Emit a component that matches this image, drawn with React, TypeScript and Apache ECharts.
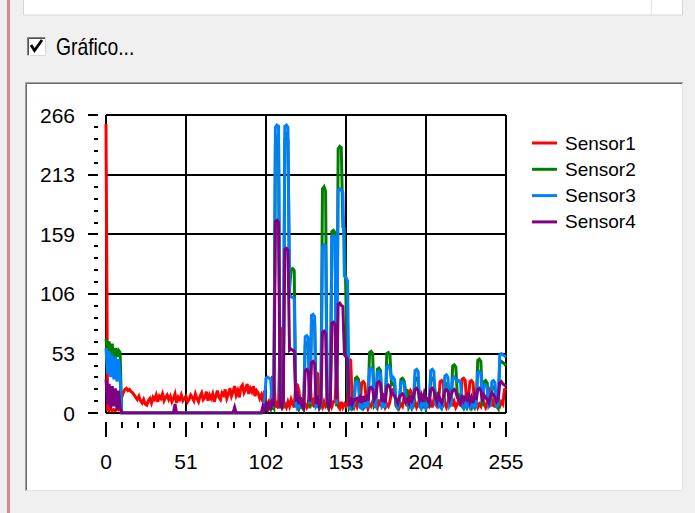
import React, { useEffect, useRef } from "react";
import * as echarts from "echarts";

const seriesNames = ["Sensor1", "Sensor2", "Sensor3", "Sensor4"];
const seriesColors = ["#ff0000", "#008000", "#0080ff", "#800080"];

const xTickLabels = ["0", "51", "102", "153", "204", "255"];
const yTickLabels = ["0", "53", "106", "159", "213", "266"];

const sensor1 = [
  258, 3, 2, 4, 2, 3, 2, 4, 3, 5, 14, 18, 21, 22, 20, 21,
  19, 18, 16, 14, 12, 15, 11, 9, 12, 8, 7, 11, 13, 9, 14, 12,
  16, 10, 15, 13, 17, 11, 14, 16, 12, 15, 10, 13, 17, 9, 14, 12,
  16, 11, 13, 15, 10, 12, 16, 14, 11, 17, 13, 10, 15, 18, 12, 14,
  19, 11, 16, 13, 17, 10, 15, 20, 14, 12, 18, 16, 21, 13, 17, 22,
  15, 19, 24, 16, 20, 14, 23, 25, 18, 21, 26, 17, 22, 19, 24, 15,
  20, 18, 13, 16, 10, 20, 6, 4, 10, 8, 31, 30, 5, 8, 4, 74,
  75, 6, 8, 5, 10, 6, 12, 8, 5, 26, 25, 20, 4, 10, 6, 8,
  5, 8, 36, 6, 10, 5, 36, 35, 6, 8, 5, 10, 6, 8, 4, 12,
  6, 10, 10, 38, 6, 4, 10, 5, 8, 6, 10, 48, 47, 8, 5, 10,
  6, 12, 8, 27, 28, 26, 10, 4, 8, 6, 10, 15, 8, 5, 12, 6,
  18, 10, 5, 8, 6, 10, 20, 21, 18, 6, 12, 5, 8, 6, 14, 10,
  6, 18, 20, 17, 6, 10, 5, 8, 12, 6, 10, 14, 5, 8, 6, 10,
  5, 12, 8, 6, 10, 28, 29, 27, 8, 5, 10, 20, 18, 6, 10, 5,
  8, 12, 6, 30, 31, 29, 8, 12, 28, 29, 27, 6, 10, 5, 8, 6,
  12, 8, 5, 10, 22, 20, 6, 10, 5, 14, 8, 6, 10, 8, 21, 22,
];

const sensor2 = [
  66, 55, 64, 52, 62, 36, 58, 50, 56, 54, 0, 0, 0, 0, 0, 0,
  0, 0, 0, 0, 0, 0, 0, 0, 0, 0, 0, 0, 0, 0, 0, 0,
  0, 0, 0, 0, 0, 0, 0, 0, 0, 0, 0, 0, 0, 0, 0, 0,
  0, 0, 0, 0, 0, 0, 0, 0, 0, 0, 0, 0, 0, 0, 0, 0,
  0, 0, 0, 0, 0, 0, 0, 0, 0, 0, 0, 0, 0, 0, 0, 0,
  0, 0, 0, 0, 0, 0, 0, 0, 0, 0, 0, 0, 0, 0, 0, 0,
  0, 0, 0, 0, 2, 6, 4, 8, 5, 3, 6, 4, 240, 245, 240, 5,
  8, 4, 245, 248, 244, 110, 128, 129, 127, 6, 10, 4, 8, 5, 3, 60,
  62, 60, 4, 80, 82, 80, 5, 10, 4, 6, 200, 202, 198, 6, 4, 10,
  162, 163, 161, 6, 236, 238, 237, 166, 165, 100, 20, 5, 8, 4, 6, 31,
  32, 30, 5, 8, 4, 6, 10, 5, 54, 55, 53, 6, 8, 39, 40, 38,
  5, 10, 4, 53, 54, 52, 25, 26, 24, 6, 4, 8, 30, 31, 29, 20,
  20, 5, 8, 4, 6, 30, 31, 29, 5, 8, 6, 10, 4, 8, 5, 30,
  31, 29, 16, 17, 15, 6, 4, 8, 25, 26, 24, 6, 10, 42, 43, 41,
  15, 16, 14, 6, 4, 8, 5, 10, 6, 4, 8, 5, 10, 47, 48, 46,
  6, 28, 29, 27, 5, 8, 22, 23, 21, 6, 4, 45, 46, 45, 44, 42,
];

const sensor3 = [
  58, 35, 55, 32, 52, 30, 50, 28, 48, 30, 0, 0, 0, 0, 0, 0,
  0, 0, 0, 0, 0, 0, 0, 0, 0, 0, 0, 0, 0, 0, 0, 0,
  0, 0, 0, 0, 0, 0, 0, 0, 0, 0, 0, 0, 0, 0, 0, 0,
  0, 0, 0, 0, 0, 0, 0, 0, 0, 0, 0, 0, 0, 0, 0, 0,
  0, 0, 0, 0, 0, 0, 0, 0, 0, 0, 0, 0, 0, 0, 0, 0,
  0, 0, 0, 0, 0, 0, 0, 0, 0, 0, 0, 0, 0, 0, 0, 0,
  0, 0, 0, 0, 3, 8, 31, 32, 31, 30, 5, 8, 255, 257, 256, 10,
  6, 8, 256, 257, 255, 104, 104, 103, 102, 8, 4, 6, 10, 5, 4, 68,
  69, 67, 8, 87, 88, 86, 6, 8, 5, 10, 148, 150, 149, 10, 6, 8,
  157, 158, 156, 8, 199, 200, 199, 197, 122, 121, 118, 6, 4, 8, 5, 27,
  28, 26, 5, 4, 8, 6, 10, 5, 39, 40, 38, 8, 6, 36, 37, 35,
  6, 8, 5, 41, 42, 40, 31, 32, 30, 8, 5, 10, 27, 28, 26, 10,
  10, 6, 8, 5, 10, 38, 39, 37, 6, 4, 10, 8, 5, 10, 6, 38,
  39, 37, 8, 8, 6, 10, 5, 8, 33, 34, 32, 6, 8, 31, 32, 30,
  28, 29, 27, 8, 5, 10, 6, 8, 5, 10, 6, 8, 5, 36, 37, 35,
  10, 24, 25, 23, 6, 8, 28, 29, 27, 5, 8, 52, 53, 52, 51, 50,
];

const sensor4 = [
  30, 8, 26, 4, 24, 6, 22, 3, 20, 5, 0, 0, 0, 0, 0, 0,
  0, 0, 0, 0, 0, 0, 0, 0, 0, 0, 0, 0, 0, 0, 0, 0,
  0, 0, 0, 0, 0, 0, 0, 0, 0, 0, 0, 0, 8, 0, 0, 0,
  0, 0, 0, 0, 0, 0, 0, 0, 0, 0, 0, 0, 0, 0, 0, 0,
  0, 0, 0, 0, 0, 0, 0, 0, 0, 0, 0, 0, 0, 0, 0, 0,
  0, 0, 5, 0, 0, 0, 0, 0, 0, 0, 0, 0, 0, 0, 0, 0,
  0, 0, 0, 0, 6, 3, 8, 4, 10, 3, 12, 6, 171, 172, 170, 8,
  5, 10, 146, 147, 145, 56, 57, 56, 55, 10, 20, 8, 14, 6, 4, 38,
  39, 37, 10, 45, 46, 44, 8, 12, 6, 10, 72, 73, 71, 10, 5, 8,
  80, 81, 79, 12, 97, 98, 96, 95, 52, 50, 48, 6, 14, 8, 12, 12,
  13, 11, 14, 9, 15, 10, 16, 11, 22, 23, 21, 12, 15, 27, 28, 26,
  10, 14, 9, 24, 25, 23, 16, 17, 15, 12, 9, 14, 16, 17, 15, 10,
  12, 9, 16, 11, 14, 21, 22, 20, 12, 16, 10, 18, 14, 12, 9, 21,
  22, 20, 14, 10, 16, 12, 9, 14, 20, 21, 19, 12, 16, 20, 21, 19,
  14, 12, 9, 16, 11, 14, 12, 18, 10, 14, 9, 16, 12, 21, 22, 20,
  10, 16, 14, 12, 9, 14, 18, 16, 14, 10, 12, 27, 28, 26, 25, 24,
];

const allSeries = [sensor1, sensor2, sensor3, sensor4];

const X_MAX = 255;
const X_INTERVAL = 51;
const Y_MAX = 266;
const Y_INTERVAL = 53.2;

const FONT = "'Liberation Sans', Arial, sans-serif";

export default function App() {
  const ref = useRef<HTMLDivElement>(null);

  useEffect(() => {
    if (!ref.current) return;
    const chart = echarts.init(ref.current, undefined, { renderer: "svg" });

    const chrome: any[] = [
      { type: "rect", z: -10, shape: { x: 7, y: 0, width: 3, height: 513 }, style: { fill: "#d8878c" } },
      { type: "rect", z: -10, shape: { x: 23.5, y: -2, width: 659, height: 17 }, style: { fill: "#ffffff", stroke: "#d6d6d6", lineWidth: 1 } },
      { type: "line", z: -9, shape: { x1: 651.5, y1: 0, x2: 651.5, y2: 14 }, style: { stroke: "#e2e2e2", lineWidth: 1 } },
      { type: "rect", z: -10, shape: { x: 27, y: 37, width: 19, height: 19 }, style: { fill: "#ffffff" } },
      { type: "polyline", z: -9, shape: { points: [[27.5, 56], [27.5, 37.5], [46, 37.5]] }, style: { stroke: "#808080", lineWidth: 1, fill: null } },
      { type: "polyline", z: -9, shape: { points: [[28.5, 55], [28.5, 38.5], [45, 38.5]] }, style: { stroke: "#505050", lineWidth: 1, fill: null } },
      { type: "polyline", z: -9, shape: { points: [[27, 55.5], [45.5, 55.5], [45.5, 37]] }, style: { stroke: "#d8d8d8", lineWidth: 1, fill: null } },
      { type: "polyline", z: -9, shape: { points: [[31, 45], [34.5, 50.5], [42, 40]] }, style: { stroke: "#000000", lineWidth: 2.8, fill: null } },
      {
        type: "text", z: -9, x: 56, y: 47, scaleX: 0.84,
        style: { text: "Gráfico...", fill: "#000000", font: `23px ${FONT}`, textVerticalAlign: "middle", textAlign: "left" },
      },
      { type: "rect", z: -10, shape: { x: 25, y: 82, width: 658, height: 409 }, style: { fill: "#ffffff" } },
      { type: "polyline", z: -9, shape: { points: [[25.5, 491], [25.5, 82.5], [683, 82.5]] }, style: { stroke: "#a0a0a0", lineWidth: 1, fill: null } },
      { type: "polyline", z: -9, shape: { points: [[26.5, 490], [26.5, 83.5], [682, 83.5]] }, style: { stroke: "#696969", lineWidth: 1, fill: null } },
      { type: "polyline", z: -9, shape: { points: [[26, 490.5], [682.5, 490.5], [682.5, 83]] }, style: { stroke: "#e3e3e3", lineWidth: 1, fill: null } },
    ];

    const gridLine = { show: true, lineStyle: { color: "#000", width: 2 } };
    const tickStyle = { color: "#000", width: 2 };
    const off = { show: false };

    const xBase = { type: "value", min: 0, max: X_MAX, interval: X_INTERVAL };
    const yBase = { type: "value", min: 0, max: Y_MAX, interval: Y_INTERVAL };

    const option: any = {
      animation: false,
      backgroundColor: "#f0f0f0",
      textStyle: { fontFamily: FONT },
      graphic: { elements: chrome },
      grid: [
        { left: 106, right: 189, top: 115, bottom: 100, containLabel: false },
        { left: 98, right: 197, top: 115, bottom: 100, containLabel: false },
        { left: 106, right: 189, top: 124, bottom: 91, containLabel: false },
      ],
      legend: {
        orient: "vertical",
        left: 527,
        top: 127,
        icon: "rect",
        itemWidth: 25,
        itemHeight: 3,
        itemGap: 4.3,
        data: seriesNames,
        textStyle: { fontSize: 19, lineHeight: 22, color: "#000", fontFamily: FONT, padding: [0, 0, 0, 3] },
      },
      xAxis: [
        { ...xBase, gridIndex: 0, axisLine: off, axisTick: off, axisLabel: off, splitLine: gridLine },
        { ...xBase, gridIndex: 1, show: false },
        {
          ...xBase,
          gridIndex: 2,
          position: "bottom",
          axisLine: off,
          axisTick: { show: true, length: 15, lineStyle: tickStyle },
          minorTick: { show: true, splitNumber: 5, length: 6, lineStyle: tickStyle },
          splitLine: off,
          axisLabel: {
            margin: 29,
            fontSize: 21,
            color: "#000",
            fontFamily: FONT,
            formatter: (v: number) => xTickLabels[Math.round(v / X_INTERVAL)] ?? "",
          },
        },
      ],
      yAxis: [
        { ...yBase, gridIndex: 0, axisLine: off, axisTick: off, axisLabel: off, splitLine: gridLine },
        {
          ...yBase,
          gridIndex: 1,
          position: "left",
          axisLine: off,
          axisTick: { show: true, length: 10, lineStyle: tickStyle },
          minorTick: { show: true, splitNumber: 5, length: 4, lineStyle: tickStyle },
          splitLine: off,
          axisLabel: {
            margin: 23,
            fontSize: 21,
            color: "#000",
            fontFamily: FONT,
            formatter: (v: number) => yTickLabels[Math.round(v / Y_INTERVAL)] ?? "",
          },
        },
        { ...yBase, gridIndex: 2, show: false },
      ],
      series: allSeries.map((vals, k) => ({
        name: seriesNames[k],
        type: "line",
        xAxisIndex: 0,
        yAxisIndex: 0,
        showSymbol: false,
        symbol: "none",
        color: seriesColors[k],
        lineStyle: { width: 3, color: seriesColors[k], join: "miter", cap: "butt" },
        data: vals.map((v, i) => [i, v]),
        z: 3 + k,
      })),
    };

    chart.setOption(option);
    return () => chart.dispose();
  }, []);

  return <div ref={ref} style={{ position: "absolute", left: 0, top: 0, width: 695, height: 513 }} />;
}
